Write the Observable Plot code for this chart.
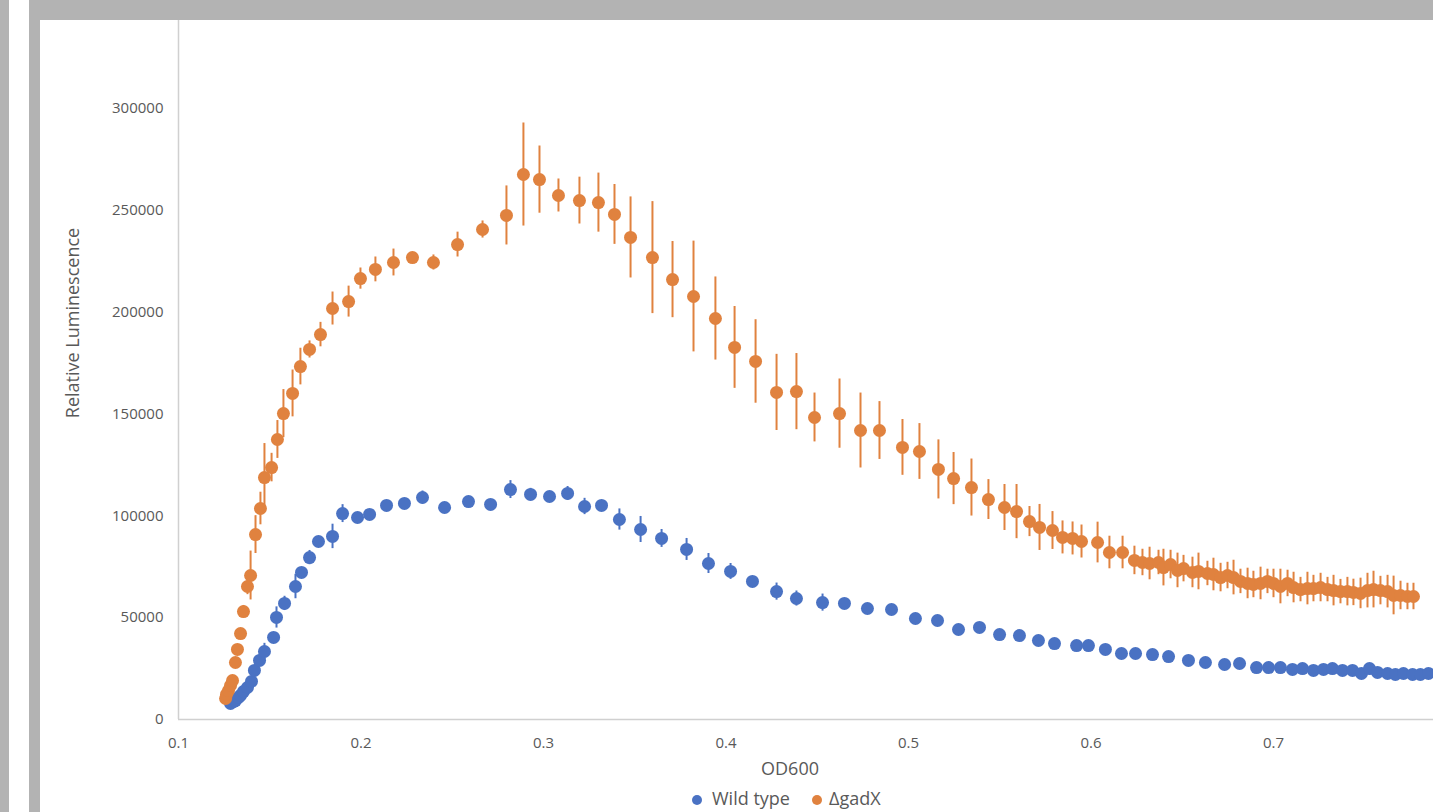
<!DOCTYPE html>
<html>
<head>
<meta charset="utf-8">
<script src="https://cdn.jsdelivr.net/npm/d3@7"></script>
<script src="https://cdn.jsdelivr.net/npm/@observablehq/plot@0.6"></script>
<style>
  html, body { margin:0; padding:0; }
  body { width:1433px; height:812px; overflow:hidden; position:relative; background:#b3b3b3; font-family:"Open Sans", sans-serif; }
  #strip { position:absolute; left:9px; top:0; width:20px; height:812px; background:#fff; }
  #frame { position:absolute; left:40px; top:20px; width:1393px; height:792px; background:#fff; overflow:hidden; }
  #inner { position:absolute; left:-40px; top:-20px; width:1500px; height:812px; }
  #inner svg { position:absolute; left:0; top:0; }
  .lbl { position:absolute; color:#595959; font-size:18px; white-space:nowrap; line-height:1; }
  .ldot { position:absolute; width:10px; height:10px; border-radius:50%; }
</style>
</head>
<body>
<div id="strip"></div>
<div id="frame"><div id="inner"></div></div>
<script>
// ---- data (OD600, relative luminescence, error) ----
const seriesNames = ["Wild type", "ΔgadX"];
const seriesColors = ["#4a72c3", "#e0823f"];
const xTicks = [0.1, 0.2, 0.3, 0.4, 0.5, 0.6, 0.7];
const yTicks = [0, 50000, 100000, 150000, 200000, 250000, 300000];
const xAxisTitle = "OD600";
const yAxisTitle = "Relative Luminescence";

const wildType = [
  [0.1285, 7900, 800], [0.1301, 8800, 800], [0.1312, 9300, 900], [0.1329, 10800, 1000],
  [0.1340, 11800, 1000], [0.1356, 13700, 1200], [0.1378, 15700, 1500], [0.1400, 18700, 1500],
  [0.1416, 24100, 2000], [0.1444, 29000, 3000], [0.1471, 33400, 4000], [0.1521, 40300, 2000],
  [0.1537, 50100, 5200], [0.1581, 57000, 3500], [0.1641, 65300, 6000], [0.1674, 72200, 2000],
  [0.1718, 79500, 3500], [0.1767, 87400, 1500], [0.1844, 89900, 6000], [0.1899, 101100, 4400],
  [0.1981, 99200, 1500], [0.2047, 100700, 1500], [0.2140, 105100, 1500], [0.2238, 106100, 1500],
  [0.2337, 109000, 3200], [0.2458, 104100, 1500], [0.2589, 107000, 1500], [0.2710, 105600, 1500],
  [0.2819, 112900, 4400], [0.2929, 110500, 3000], [0.3033, 109500, 1500], [0.3132, 111000, 3400],
  [0.3225, 104600, 4000], [0.3318, 105100, 1500], [0.3416, 98200, 5200], [0.3532, 93300, 6400],
  [0.3647, 88900, 4400], [0.3784, 83500, 5400], [0.3904, 76600, 4900], [0.4025, 72700, 3900],
  [0.4145, 67800, 1500], [0.4277, 62800, 4200], [0.4386, 59400, 3700], [0.4529, 57400, 4200],
  [0.4649, 57000, 1500], [0.4775, 54500, 1500], [0.4907, 54000, 1500], [0.5038, 49600, 1500],
  [0.5159, 48600, 1500], [0.5274, 44200, 1200], [0.5389, 45200, 1200], [0.5499, 41700, 1200],
  [0.5608, 41200, 1200], [0.5712, 38800, 1200], [0.5800, 37300, 1200], [0.5921, 36300, 1200],
  [0.5986, 36300, 1200], [0.6079, 34400, 1200], [0.6167, 32400, 1200], [0.6244, 32400, 1200],
  [0.6337, 31900, 1200], [0.6425, 30900, 1200], [0.6534, 29000, 1200], [0.6627, 28000, 1200],
  [0.6732, 27000, 1200], [0.6814, 27500, 1200], [0.6907, 25500, 1200], [0.6973, 25500, 1200],
  [0.7038, 25500, 1200], [0.7104, 24600, 1200], [0.7159, 25000, 1200], [0.7219, 24100, 1200],
  [0.7274, 24600, 1200], [0.7323, 25000, 1200], [0.7378, 24100, 1200], [0.7433, 24100, 1200],
  [0.7482, 22600, 1200], [0.7526, 25000, 1200], [0.7570, 23100, 1200], [0.7625, 22600, 1200],
  [0.7668, 22100, 1200], [0.7712, 22600, 1200], [0.7762, 22100, 1200], [0.7805, 22100, 1200],
  [0.7849, 22600, 1200]
];

const gadX = [
  [0.1258, 10300, 1000], [0.1263, 12300, 1500], [0.1274, 14200, 1500], [0.1285, 16700, 1500],
  [0.1296, 19100, 2000], [0.1312, 28000, 2000], [0.1323, 34400, 2000], [0.1340, 42200, 2500],
  [0.1356, 53000, 3000], [0.1378, 65300, 4000], [0.1395, 70700, 12000], [0.1422, 90800, 9300],
  [0.1449, 103600, 8000], [0.1471, 118800, 16700], [0.1510, 123700, 7000], [0.1542, 137500, 9300],
  [0.1575, 150200, 11800], [0.1625, 160100, 11500], [0.1668, 173300, 9000], [0.1718, 181700, 4200],
  [0.1778, 189000, 6000], [0.1844, 201800, 8100], [0.1932, 205200, 7600], [0.1997, 216500, 5200],
  [0.2079, 221000, 6100], [0.2178, 224400, 6600], [0.2282, 226800, 2000], [0.2397, 224400, 3700],
  [0.2529, 233200, 6100], [0.2666, 240600, 4200], [0.2797, 247500, 14500], [0.2890, 267600, 25300],
  [0.2978, 265100, 16500], [0.3082, 257300, 8100], [0.3197, 254800, 11500], [0.3301, 253800, 14500],
  [0.3389, 248000, 14700], [0.3477, 236700, 19900], [0.3597, 226800, 27500], [0.3707, 216000, 18700],
  [0.3822, 207700, 27200], [0.3942, 196900, 20400], [0.4047, 182700, 20100], [0.4162, 175800, 20500],
  [0.4277, 160600, 18700], [0.4386, 161000, 18700], [0.4485, 148300, 12000], [0.4622, 150200, 17000],
  [0.4737, 141900, 18400], [0.4841, 141900, 14200], [0.4967, 133600, 13700], [0.5060, 131600, 13700],
  [0.5164, 122800, 14500], [0.5247, 118300, 12800], [0.5345, 113900, 14000], [0.5438, 108000, 9800],
  [0.5526, 104100, 11300], [0.5592, 102100, 13300], [0.5663, 97200, 7400], [0.5718, 94300, 11300],
  [0.5789, 92800, 9300], [0.5844, 89400, 8100], [0.5899, 88900, 8100], [0.5948, 87400, 8100],
  [0.6036, 86900, 10000], [0.6101, 82000, 8000], [0.6173, 82000, 8000], [0.6238, 78100, 7000],
  [0.6282, 77100, 6500], [0.6321, 76600, 8000], [0.6370, 77100, 6000], [0.6397, 74600, 9000],
  [0.6436, 76100, 7000], [0.6474, 73200, 8500], [0.6507, 74100, 6500], [0.6556, 72200, 7500],
  [0.6589, 72700, 9000], [0.6638, 71700, 6000], [0.6671, 71200, 8000], [0.6710, 69700, 7000],
  [0.6748, 70700, 6500], [0.6781, 69700, 8500], [0.6819, 67800, 6000], [0.6858, 66800, 7500],
  [0.6890, 66300, 6500], [0.6929, 66800, 8000], [0.6967, 67800, 6000], [0.7000, 66800, 7000],
  [0.7038, 65300, 8500], [0.7077, 66800, 6500], [0.7110, 64800, 7500], [0.7148, 63800, 6000],
  [0.7186, 64300, 8000], [0.7219, 64300, 6500], [0.7258, 64800, 7000], [0.7296, 63800, 6000],
  [0.7329, 63300, 7500], [0.7367, 62800, 6000], [0.7405, 62800, 7000], [0.7438, 62400, 6500],
  [0.7477, 61900, 7500], [0.7515, 63300, 8500], [0.7548, 63800, 9000], [0.7586, 63300, 7000],
  [0.7625, 62800, 8000], [0.7658, 60900, 9500], [0.7696, 60900, 7000], [0.7734, 60400, 6500],
  [0.7767, 60400, 6500]
];

// ---- build table ----
const toRows = (arr, name) => arr.map(([od, lum, err]) => ({series: name, od, lum, lo: lum - err, hi: lum + err}));
const rowsWT = toRows(wildType, seriesNames[0]);
const rowsGX = toRows(gadX, seriesNames[1]);

const axisStyle = {fontFamily: "Open Sans", fontSize: 15, color: "#595959"};

const chart = Plot.plot({
  width: 1500,
  height: 812,
  marginLeft: 178,
  marginRight: 44.5,
  marginTop: 6.2,
  marginBottom: 93,
  style: {background: "transparent", overflow: "visible", ...axisStyle},
  x: {domain: [0.1, 0.8]},
  y: {domain: [0, 350000]},
  color: {domain: seriesNames, range: seriesColors},
  marks: [
    Plot.ruleX([0.1], {stroke: "#d0d0d0", strokeWidth: 1.5}),
    Plot.ruleY([0], {stroke: "#d0d0d0", strokeWidth: 1.5}),
    Plot.axisY({ticks: yTicks, tickSize: 0, tickPadding: 15, tickFormat: d => String(d), label: null, fontSize: 15}),
    Plot.axisX({ticks: xTicks, tickSize: 0, tickPadding: 18, tickFormat: d => d.toFixed(1), label: null, fontSize: 15}),
    Plot.ruleX(rowsWT, {x: "od", y1: "lo", y2: "hi", stroke: "series", strokeWidth: 2}),
    Plot.dot(rowsWT, {x: "od", y: "lum", r: 6.5, fill: "series", stroke: null}),
    Plot.ruleX(rowsGX, {x: "od", y1: "lo", y2: "hi", stroke: "series", strokeWidth: 2}),
    Plot.dot(rowsGX, {x: "od", y: "lum", r: 6.5, fill: "series", stroke: null})
  ]
});

const inner = document.getElementById("inner");
inner.appendChild(chart);

function addLabel(text, left, top, transform) {
  const d = document.createElement("div");
  d.className = "lbl";
  d.textContent = text;
  d.style.left = left + "px";
  d.style.top = top + "px";
  d.style.transform = transform;
  inner.appendChild(d);
}
addLabel(xAxisTitle, 790, 768, "translate(-50%,-50%)");
addLabel(yAxisTitle, 72, 323, "translate(-50%,-50%) rotate(-90deg)");

// legend
const legendPos = [{dot: 697, text: 712}, {dot: 817, text: 829}];
seriesNames.forEach((name, i) => {
  const dot = document.createElement("div");
  dot.className = "ldot";
  dot.style.background = seriesColors[i];
  dot.style.left = (legendPos[i].dot - 5) + "px";
  dot.style.top = (800 - 5) + "px";
  inner.appendChild(dot);
  addLabel(name, legendPos[i].text, 798, "translateY(-50%)");
});
</script>
</body>
</html>
